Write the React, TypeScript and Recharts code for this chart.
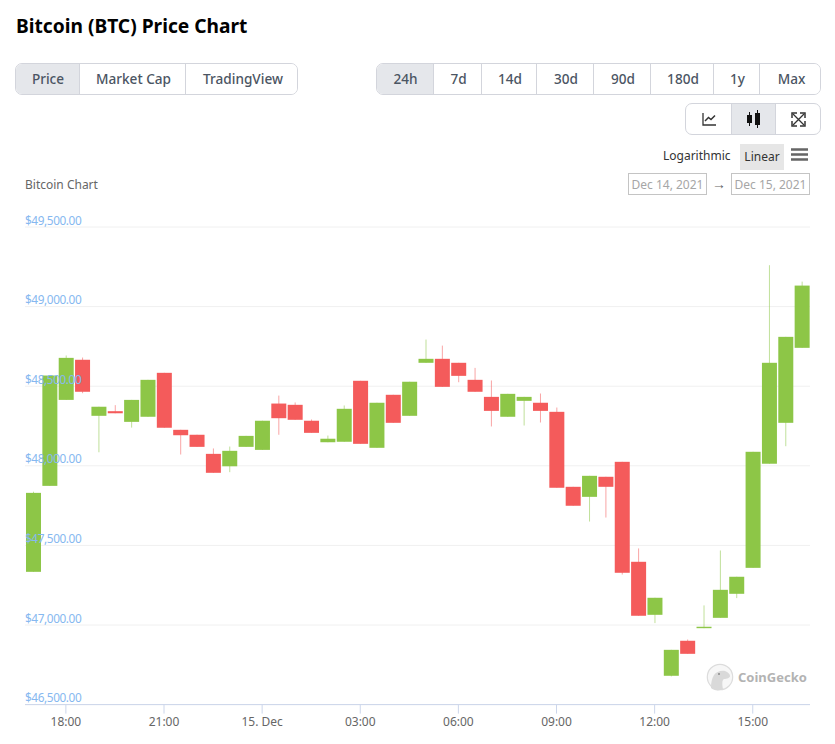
import { Bar, CartesianGrid, ComposedChart, XAxis, YAxis } from "recharts";

const FONT = "'Noto Sans', 'Open Sans', sans-serif";
const GREEN = "#8dc647";
const RED = "#f45b5b";
const BORDER = "#d3d5dc";
const ACTIVE = "#e5e7eb";
const TEXT = "#4b5563";

const times = [
  "17:00", "17:30", "18:00", "18:30", "19:00", "19:30", "20:00", "20:30",
  "21:00", "21:30", "22:00", "22:30", "23:00", "23:30", "15. Dec", "00:30",
  "01:00", "01:30", "02:00", "02:30", "03:00", "03:30", "04:00", "04:30",
  "05:00", "05:30", "06:00", "06:30", "07:00", "07:30", "08:00", "08:30",
  "09:00", "09:30", "10:00", "10:30", "11:00", "11:30", "12:00", "12:30",
  "13:00", "13:30", "14:00", "14:30", "15:00", "15:30", "16:00", "16:30",
];
const opens = [
  47334, 47874, 48414, 48666, 48314, 48343, 48276, 48308, 48584, 48226, 48195, 48075,
  47997, 48119, 48100, 48391, 48383, 48283, 48148, 48151, 48534, 48113, 48446, 48314,
  48647, 48672, 48647, 48540, 48433, 48308, 48408, 48396, 48339, 47868, 47805, 47931,
  48025, 47397, 47064, 46681, 46901, 46980, 47045, 47196, 47359, 48013, 48270, 48741,
];
const closes = [
  47830, 48567, 48678, 48465, 48371, 48330, 48414, 48540, 48239, 48192, 48119, 47956,
  48094, 48188, 48283, 48299, 48289, 48207, 48170, 48358, 48138, 48396, 48270, 48528,
  48672, 48496, 48565, 48465, 48345, 48452, 48433, 48345, 47862, 47749, 47937, 47868,
  47328, 47058, 47171, 46844, 46819, 46989, 47221, 47303, 48088, 48647, 48810, 49132,
];
const highs = [
  47837, 48567, 48693, 48680, 48371, 48381, 48414, 48540, 48584, 48226, 48195, 48109,
  48121, 48188, 48283, 48441, 48398, 48291, 48190, 48379, 48534, 48396, 48446, 48528,
  48793, 48755, 48647, 48615, 48536, 48452, 48433, 48454, 48366, 47868, 47937, 47931,
  48025, 47481, 47171, 46844, 46909, 47123, 47468, 47303, 48088, 49260, 48810, 49157,
];
const lows = [
  47334, 47874, 48414, 48456, 48085, 48330, 48240, 48308, 48239, 48071, 48119, 47956,
  47960, 48119, 48100, 48195, 48289, 48207, 48148, 48151, 48138, 48113, 48270, 48314,
  48647, 48496, 48525, 48465, 48247, 48308, 48253, 48272, 47862, 47749, 47650, 47675,
  47317, 47058, 47012, 46677, 46819, 46980, 47045, 47169, 47359, 48013, 48123, 48741,
];
const xTicks = ["18:00", "21:00", "15. Dec", "03:00", "06:00", "09:00", "12:00", "15:00"];
const yTicks = [46500, 47000, 47500, 48000, 48500, 49000, 49500];

const metricTabs = ["Price", "Market Cap", "TradingView"];
const metricEdges = [15, 80, 186, 298];
const rangeTabs = ["24h", "7d", "14d", "30d", "90d", "180d", "1y", "Max"];
const rangeEdges = [376, 434, 482, 537, 594, 651, 714, 760, 821];

const rows = times.map((time, i) => ({
  time,
  open: opens[i],
  close: closes[i],
  high: highs[i],
  low: lows[i],
  range: [lows[i], highs[i]],
}));

function Candle(props: any) {
  const { x, y, width, height, payload } = props;
  const { open, close, high, low } = payload;
  const perUnit = height / (high - low);
  const color = close >= open ? GREEN : RED;
  const top = y + (high - Math.max(open, close)) * perUnit;
  const bodyHeight = Math.abs(close - open) * perUnit;
  const mid = x + width / 2;
  return (
    <g>
      <line x1={mid} x2={mid} y1={y} y2={y + height} stroke={color} strokeWidth={1} strokeOpacity={0.55} />
      <rect x={x} y={top} width={width} height={bodyHeight} fill={color} />
    </g>
  );
}

function PriceTick({ y, payload }: any) {
  return (
    <text x={25} y={y - 2.5} fill="#86b8f0" fontSize={11.8} letterSpacing={-0.4} fontFamily={FONT}>
      ${payload.value.toLocaleString("en-US", { minimumFractionDigits: 2 })}
    </text>
  );
}

function Tabs({ labels, edges, top, activeIndex }: { labels: string[]; edges: number[]; top: number; activeIndex: number }) {
  const left = edges[0];
  return (
    <div
      style={{
        position: "absolute",
        left,
        top,
        width: edges[edges.length - 1] - left,
        height: 32,
        boxSizing: "border-box",
        border: `1px solid ${BORDER}`,
        borderRadius: 7,
        overflow: "hidden",
      }}
    >
      {labels.map((label, i) => (
        <div
          key={label}
          style={{
            position: "absolute",
            left: edges[i] - left - 1,
            width: edges[i + 1] - edges[i],
            top: 0,
            height: 30,
            paddingLeft: 2,
            lineHeight: "29px",
            textAlign: "center",
            fontSize: 13.6,
            fontWeight: 500,
            color: TEXT,
            background: i === activeIndex ? ACTIVE : "#fff",
            borderRight: i < labels.length - 1 ? `1px solid ${BORDER}` : "none",
            boxSizing: "border-box",
          }}
        >
          {label}
        </div>
      ))}
    </div>
  );
}

function IconButtons() {
  return (
    <div
      style={{
        position: "absolute",
        left: 685,
        top: 103,
        width: 136,
        height: 32,
        boxSizing: "border-box",
        border: `1px solid ${BORDER}`,
        borderRadius: 7,
        overflow: "hidden",
      }}
    >
      <div style={{ position: "absolute", left: 45, top: 0, width: 45, height: 30, background: ACTIVE, borderLeft: `1px solid ${BORDER}`, borderRight: `1px solid ${BORDER}`, boxSizing: "border-box" }} />
      <svg width={134} height={30} style={{ position: "absolute", left: 0, top: 0 }}>
        <path d="M17 9v12h13" fill="none" stroke="#333" strokeWidth={1.3} />
        <path d="M19 17l3.5-3.5 2.5 2 4-4" fill="none" stroke="#333" strokeWidth={1.5} />
        <path d="M63.5 8v14M71.5 6v18" stroke="#111" strokeWidth={1} />
        <rect x={61} y={11} width={5} height={8} fill="#111" />
        <rect x={69} y={9} width={5} height={12} fill="#111" />
        <path d="M107 10l11 11M118 10l-11 11" stroke="#333" strokeWidth={1.3} />
        <path d="M106 14v-5h5M114 9h5v5M119 17v5h-5M111 22h-5v-5" fill="none" stroke="#333" strokeWidth={1.5} />
      </svg>
    </div>
  );
}

function DateBox({ left, label }: { left: number; label: string }) {
  return (
    <div
      style={{
        position: "absolute",
        left,
        top: 173,
        width: 79,
        height: 22,
        boxSizing: "border-box",
        border: "1px solid #c4c4c4",
        lineHeight: "21px",
        textAlign: "center",
        fontSize: 12,
        color: "#a6a6a6",
      }}
    >
      {label}
    </div>
  );
}

function Watermark() {
  return (
    <div style={{ position: "absolute", left: 706, top: 663, width: 110, height: 28 }}>
      <svg width={28} height={28} style={{ position: "absolute", left: 0, top: 0 }}>
        <circle cx={14} cy={14} r={12.7} fill="#f7f7f7" stroke="#dcdcdc" strokeWidth={1.2} />
        <path d="M5 25c0-6 1-10 3-13 2-3 7-5 11-4 3 1 5 3 5 5 0 2-3 3-6 3-2 1-2 5-1 10-3 2-9 2-12-1z" fill="#d9d9d9" />
        <circle cx={13} cy={11} r={1} fill="#8a8a8a" />
      </svg>
      <div style={{ position: "absolute", left: 32, top: 3, fontSize: 13, fontWeight: 700, color: "#b3b3b3", lineHeight: "22px" }}>
        CoinGecko
      </div>
    </div>
  );
}

export default function App() {
  return (
    <div style={{ position: "absolute", left: 0, top: 0, width: 835, height: 744, background: "#fff", fontFamily: FONT, overflow: "hidden" }}>
      <div style={{ position: "absolute", left: 16, top: 12, fontSize: 19.2, fontWeight: 700, color: "#000", lineHeight: "28px", whiteSpace: "nowrap" }}>
        Bitcoin (BTC) Price Chart
      </div>
      <Tabs labels={metricTabs} edges={metricEdges} top={63} activeIndex={0} />
      <Tabs labels={rangeTabs} edges={rangeEdges} top={63} activeIndex={0} />
      <IconButtons />

      <div style={{ position: "absolute", left: 663, top: 147, fontSize: 12, color: "#333", lineHeight: "18px" }}>Logarithmic</div>
      <div style={{ position: "absolute", left: 740, top: 144, width: 44, height: 26, background: "#e6e6e6", fontSize: 12, color: "#333", lineHeight: "25px", textAlign: "center" }}>Linear</div>
      <svg width={18} height={14} style={{ position: "absolute", left: 791, top: 148 }}>
        <path d="M0 1.5h17M0 6.5h17M0 11.5h17" stroke="#666" strokeWidth={2.4} />
      </svg>

      <div style={{ position: "absolute", left: 25, top: 176, fontSize: 12, color: "#666", lineHeight: "18px" }}>Bitcoin Chart</div>
      <DateBox left={628} label="Dec 14, 2021" />
      <div style={{ position: "absolute", left: 712, top: 175, fontSize: 14, color: "#666", lineHeight: "18px" }}>→</div>
      <DateBox left={731} label="Dec 15, 2021" />

      <div style={{ position: "absolute", left: 0, top: 0 }}>
        <ComposedChart
          width={835}
          height={744}
          data={rows}
          barSize={15}
          margin={{ top: 227, right: 25, bottom: 9.4, left: 24 }}
        >
          <CartesianGrid horizontal vertical={false} stroke="#f0f0f0" />
          <Bar dataKey="range" shape={Candle} isAnimationActive={false} />
          <XAxis
            dataKey="time"
            ticks={xTicks}
            interval={0}
            height={30}
            tickSize={9}
            tickMargin={4}
            axisLine={{ stroke: "#ccd6eb" }}
            tickLine={{ stroke: "#ccd6eb" }}
            tick={{ fill: "#666", fontSize: 12, fontFamily: FONT }}
          />
          <YAxis
            width={1}
            domain={[46500, 49500]}
            ticks={yTicks}
            axisLine={false}
            tickLine={false}
            tick={PriceTick}
          />
        </ComposedChart>
      </div>
      <Watermark />
    </div>
  );
}
